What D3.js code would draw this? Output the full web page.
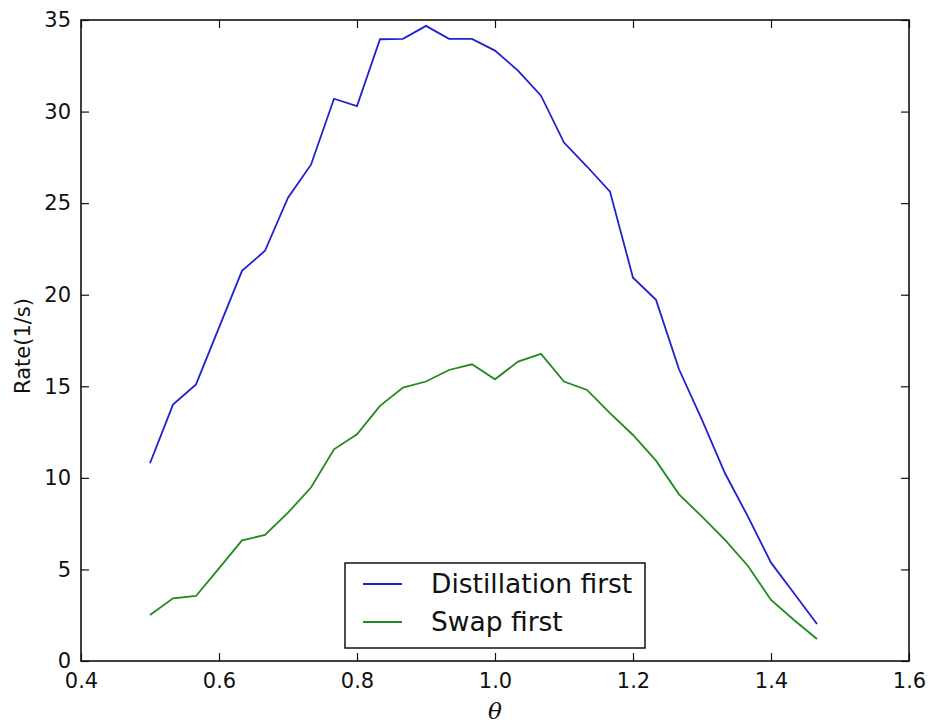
<!DOCTYPE html>
<html>
<head>
<meta charset="utf-8">
<script src="https://cdn.jsdelivr.net/npm/d3@7"></script>
<style>
  body { margin: 0; background: #fff; }
  svg text { font-family: "DejaVu Sans", sans-serif; fill: #111; }
</style>
</head>
<body>
<div id="chart"></div>
<script>
// theta values, step of 1/30
var theta = d3.range(30).map(function (i) { return 0.5 + i / 30; });

var distillationFirst = [10.8, 14.0, 15.1, 18.2, 21.3, 22.4, 25.3, 27.1, 30.7, 30.3,
  33.95, 33.97, 34.68, 33.97, 33.97, 33.33, 32.24, 30.87, 28.31, 27.0,
  25.63, 20.93, 19.72, 15.93, 13.16, 10.25, 7.88, 5.37, 3.70, 2.02];

var swapFirst = [2.51, 3.42, 3.55, 5.06, 6.59, 6.88, 8.10, 9.47, 11.56, 12.38,
  13.93, 14.93, 15.26, 15.89, 16.2, 15.38, 16.35, 16.77, 15.26, 14.80,
  13.53, 12.34, 10.94, 9.10, 7.88, 6.61, 5.19, 3.33, 2.24, 1.20];

var xTicks = [0.4, 0.6, 0.8, 1.0, 1.2, 1.4, 1.6];
var yTicks = [0, 5, 10, 15, 20, 25, 30, 35];

var seriesNames = ["Distillation first", "Swap first"];
var seriesColors = ["#2020d0", "#218a21"];

const width = 931, height = 725;
const margin = { left: 81, right: 22, top: 20, bottom: 64 };

var svg = d3.select("#chart").append("svg")
  .attr("width", width).attr("height", height);

var x = d3.scaleLinear().domain([0.4, 1.6]).range([margin.left, width - margin.right]);
var y = d3.scaleLinear().domain([0, 35]).range([height - margin.bottom, margin.top]);

// ticks point inward on all four sides (classic matplotlib)
function styleAxis(g) {
  g.select(".domain").remove();
  g.selectAll(".tick line").attr("stroke", "#111").attr("stroke-width", 1.2);
  g.selectAll(".tick text").style("font-size", "21px");
}

svg.append("g")
  .attr("transform", "translate(0," + y(0) + ")")
  .call(d3.axisBottom(x).tickValues(xTicks).tickFormat(d3.format(".1f")).tickSizeInner(-8).tickPadding(12))
  .call(styleAxis);

svg.append("g")
  .attr("transform", "translate(0," + y(35) + ")")
  .call(d3.axisTop(x).tickValues(xTicks).tickFormat("").tickSizeInner(-8))
  .call(styleAxis);

svg.append("g")
  .attr("transform", "translate(" + x(0.4) + ",0)")
  .call(d3.axisLeft(y).tickValues(yTicks).tickFormat(d3.format("d")).tickSizeInner(-8).tickPadding(10))
  .call(styleAxis);

svg.append("g")
  .attr("transform", "translate(" + x(1.6) + ",0)")
  .call(d3.axisRight(y).tickValues(yTicks).tickFormat("").tickSizeInner(-8))
  .call(styleAxis);

var line = d3.line()
  .x(function (d) { return x(d[0]); })
  .y(function (d) { return y(d[1]); });

[distillationFirst, swapFirst].forEach(function (vals, i) {
  svg.append("path")
    .datum(d3.zip(theta, vals))
    .attr("fill", "none")
    .attr("stroke", seriesColors[i])
    .attr("stroke-width", 1.8)
    .attr("d", line);
});

// frame
svg.append("rect")
  .attr("x", x(0.4)).attr("y", y(35))
  .attr("width", x(1.6) - x(0.4)).attr("height", y(0) - y(35))
  .attr("fill", "none").attr("stroke", "#111").attr("stroke-width", 1.6);

// legend
var lg = svg.append("g").attr("transform", "translate(345,563)");
lg.append("rect")
  .attr("width", 300).attr("height", 85)
  .attr("fill", "#fff").attr("stroke", "#111").attr("stroke-width", 1.5);
seriesNames.forEach(function (name, i) {
  var ly = 21 + i * 38;
  lg.append("line")
    .attr("x1", 18).attr("x2", 57).attr("y1", ly).attr("y2", ly)
    .attr("stroke", seriesColors[i]).attr("stroke-width", 1.8);
  lg.append("text")
    .attr("x", 86).attr("y", ly + 9)
    .style("font-size", "26.5px")
    .text(name);
});

// axis labels
svg.append("text")
  .attr("transform", "translate(30,346) rotate(-90)")
  .attr("text-anchor", "middle")
  .style("font-size", "21px")
  .text("Rate(1/s)");

svg.append("text")
  .attr("x", x(1.0)).attr("y", 719)
  .attr("text-anchor", "middle")
  .style("font-family", "'DejaVu Serif', serif")
  .style("font-style", "italic")
  .style("font-size", "23px")
  .text("θ");
</script>
</body>
</html>
